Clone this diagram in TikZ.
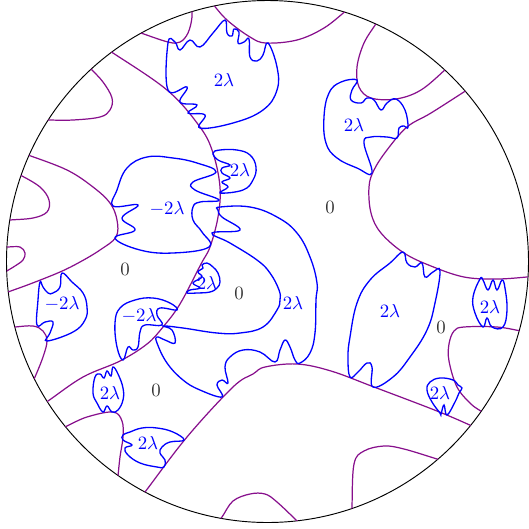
\documentclass[tikz,border=0pt]{standalone}
\usepackage{amsmath}
\definecolor{mypurple}{RGB}{135,15,140}
\definecolor{myblue}{RGB}{0,0,255}
\tikzset{
  pcurve/.style={draw=mypurple,line width=0.65pt},
  bcurve/.style={draw=myblue,line width=0.7pt},
  blab/.style={text=myblue,inner sep=1pt},
  zlab/.style={text=black!80,inner sep=1pt},
}
\begin{document}
\begin{tikzpicture}[x=0.532pt,y=-0.532pt]
\useasboundingbox (0,0) rectangle (529,529);
\coordinate (c) at (267.5,261.5);
\draw[black,line width=0.5pt] (c) circle[radius=138.85pt];
\begin{scope}
\clip (c) circle[radius=138.85pt];
% purple curves
\draw[pcurve] plot[smooth,tension=0.6] coordinates{(128,29) (138,32) (168,42) (180,42) (188,33) (192,17) (191,3)};
\draw[pcurve] plot[smooth,tension=0.6] coordinates{(205,-5) (212,3) (227,20) (250,37) (266,43) (297,40) (324,28) (347,10) (357,3)};
\draw[pcurve] plot[smooth,tension=0.6] coordinates{(100,44) (110,51) (167,90) (200,127) (213,153) (220,187) (218,217) (210,247) (201,264) (180,304) (163,327) (147,344) (120,361) (83,377) (48,401) (38,407)};
\draw[pcurve] plot[smooth,tension=0.6] coordinates{(82,60) (90,68) (103,82) (112,98) (110,110) (100,117) (73,120) (47,120) (37,120)};
\draw[pcurve] plot[smooth,tension=0.6] coordinates{(18,152) (28,155) (67,170) (93,187) (110,203) (117,220) (116,237) (100,250) (80,262) (60,272) (30,284) (8,292) (-2,296)};
\draw[pcurve] plot[smooth,tension=0.6] coordinates{(12,173) (20,175) (40,187) (49,200) (47,212) (33,218) (10,220) (0,221)};
\draw[pcurve] plot[smooth,tension=0.6] coordinates{(0,247) (7,247) (20,247) (25,253) (23,260) (15,266) (5,272)};
\draw[pcurve] plot[smooth,tension=0.6] coordinates{(5,328) (15,327) (33,326) (43,331) (47,341) (43,357) (35,377) (31,385)};
\draw[pcurve] plot[smooth,tension=0.6] coordinates{(58,430) (67,426) (87,417) (113,412) (122,421) (123,437) (120,457) (118,476) (117,486)};
\draw[pcurve] plot[smooth,tension=0.6] coordinates{(138,500) (145,492) (187,437) (233,387) (253,374) (265,367) (297,364) (331,371) (374,387) (437,411) (472,426) (485,432)};
\draw[pcurve] plot[smooth,tension=0.6] coordinates{(352,515) (352,507) (354,464) (364,451) (384,446) (404,449) (437,459) (447,462)};
\draw[pcurve] plot[smooth,tension=0.6] coordinates{(215,525) (222,517) (233,501) (250,494) (265,494) (277,502) (297,521) (303,528)};
\draw[pcurve] plot[smooth,tension=0.6] coordinates{(530,332) (521,331) (497,327) (464,327) (454,331) (449,344) (449,361) (457,387) (471,404) (482,412) (490,420)};
\draw[pcurve] plot[smooth,tension=0.6] coordinates{(475,85) (467,90) (431,113) (407,127) (387,150) (374,170) (369,187) (371,213) (381,233) (404,253) (431,266) (464,277) (497,279) (527,277) (537,276)};
\draw[pcurve] plot[smooth,tension=0.6] coordinates{(380,14) (377,22) (364,43) (357,67) (359,87) (371,98) (396,99) (421,90) (447,68) (453,62)};
\end{scope}
% blue curves
\draw[bcurve] plot[smooth cycle,tension=0.7] coordinates{(168,43) (175,42) (180,50) (190,40) (200,47) (213,33) (225,20) (227,33) (232,36) (234,29) (239,32) (238,43) (244,42) (249,39) (250,57) (257,61) (263,55) (268,43) (277,67) (277,90) (263,110) (233,123) (200,128) (205,115) (188,113) (197,105) (180,102) (187,87) (168,90)};
\draw[bcurve] plot[smooth cycle,tension=0.7] coordinates{(357,80) (341,82) (329,93) (324,117) (326,143) (337,158) (357,168) (372,173) (364,143) (371,137) (387,137) (397,138) (399,128) (404,126) (408,127) (405,110) (396,99) (387,103) (381,110) (374,100) (367,98) (361,103) (351,100) (352,90)};
\draw[bcurve] plot[smooth cycle,tension=0.7] coordinates{(113,206) (138,205) (122,218) (135,230) (115,238) (140,250) (173,253) (209,247) (202,232) (193,220) (193,207) (200,202) (219,200) (195,190) (193,182) (216,172) (197,163) (173,158) (147,157) (127,168) (117,190)};
\draw[bcurve] plot[smooth cycle,tension=0.7] coordinates{(213,153) (220,150) (237,150) (250,155) (256,167) (253,180) (243,190) (220,193) (228,187) (222,182) (230,178) (222,173) (222,168) (230,165) (218,160)};
\draw[bcurve] plot[smooth cycle,tension=0.7] coordinates{(220,207) (250,207) (277,217) (297,233) (310,257) (317,283) (316,300) (315,333) (310,353) (300,363) (295,360) (290,347) (285,340) (280,350) (275,362) (260,352) (243,350) (230,357) (225,367) (228,383) (222,380) (217,385) (222,397) (200,390) (183,380) (167,363) (157,343) (157,337) (165,340) (175,343) (172,330) (163,326) (183,328) (217,333) (240,333) (263,327) (277,310) (280,300) (279,290) (270,273) (257,260) (230,243) (212,233) (240,230) (222,217) (218,210)};
\draw[bcurve] plot[smooth cycle,tension=0.7] coordinates{(202,265) (207,263) (213,267) (218,273) (220,282) (217,288) (210,292) (197,293) (187,293) (190,290) (200,288) (193,283) (202,277) (198,272) (203,268)};
\draw[bcurve] plot[smooth cycle,tension=0.7] coordinates{(123,360) (117,347) (115,323) (120,308) (135,300) (153,298) (170,303) (177,310) (160,308) (157,315) (162,325) (145,325) (140,332) (138,347) (133,350) (128,347)};
\draw[bcurve] plot[smooth cycle,tension=0.7] coordinates{(40,282) (38,300) (37,325) (45,322) (53,322) (50,333) (47,341) (73,332) (85,320) (87,307) (83,293) (72,282) (62,273) (60,287) (53,293) (48,293) (43,287)};
\draw[bcurve] plot[smooth cycle,tension=0.7] coordinates{(95,377) (93,393) (97,403) (103,412) (107,406) (112,412) (118,410) (123,400) (123,388) (118,374) (113,367) (111,376) (107,371) (104,378) (100,374)};
\draw[bcurve] plot[smooth cycle,tension=0.7] coordinates{(123,435) (130,432) (142,428) (157,428) (173,432) (184,440) (170,442) (162,447) (160,453) (165,460) (164,467) (157,467) (140,463) (128,455) (125,448) (132,445) (123,440)};
\draw[bcurve] plot[smooth cycle,tension=0.7] coordinates{(403,252) (390,263) (370,280) (357,303) (350,337) (348,357) (350,377) (358,372) (367,363) (372,367) (373,387) (393,377) (410,357) (427,330) (435,303) (440,271) (433,272) (425,277) (422,263) (415,267) (407,263)};
\draw[bcurve] plot[smooth cycle,tension=0.7] coordinates{(480,279) (473,297) (475,313) (483,327) (487,318) (492,327) (503,327) (507,310) (505,288) (502,280) (497,290) (493,280) (488,290) (483,280)};
\draw[bcurve] plot[smooth cycle,tension=0.7] coordinates{(440,413) (432,402) (427,390) (430,382) (440,378) (453,380) (458,385) (462,388) (459,393) (455,402) (447,415) (444,405) (441,414)};
% labels
\node[blab] (l1) at (224,80) {$2\lambda$};
\node[blab] (l2) at (354,125) {$2\lambda$};
\node[blab] (l3) at (167,209) {$-2\lambda$};
\node[blab] (l4) at (240,170) {$2\lambda$};
\node[blab] (l5) at (293,303) {$2\lambda$};
\node[blab] (l6) at (207,283) {$2\lambda$};
\node[blab] (l7) at (139,316) {$-2\lambda$};
\node[blab] (l8) at (62,304) {$-2\lambda$};
\node[blab] (l9) at (110,393) {$2\lambda$};
\node[blab] (l10) at (148,443) {$2\lambda$};
\node[blab] (l11) at (390,311) {$2\lambda$};
\node[blab] (l12) at (490,307) {$2\lambda$};
\node[blab] (l13) at (440,393) {$2\lambda$};
\node[zlab] (z1) at (330,207) {$0$};
\node[zlab] (z2) at (125,269) {$0$};
\node[zlab] (z3) at (239,293) {$0$};
\node[zlab] (z4) at (156,390) {$0$};
\node[zlab] (z5) at (441,327) {$0$};
\end{tikzpicture}
\end{document}
